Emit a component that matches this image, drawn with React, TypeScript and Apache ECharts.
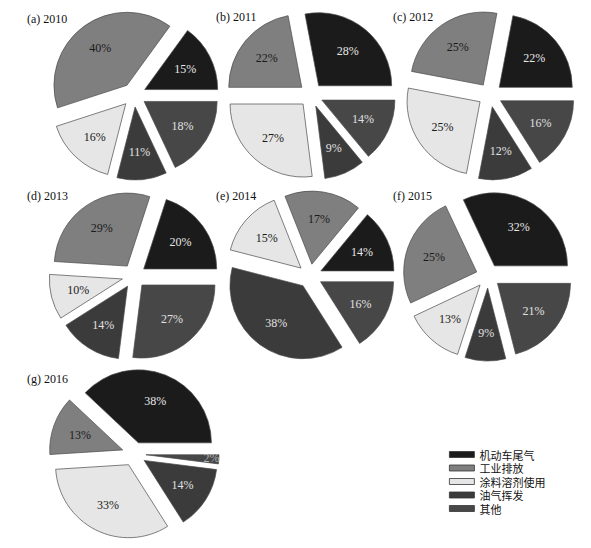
import React, { useEffect, useRef } from 'react';
import * as echarts from 'echarts';

const categories = ['机动车尾气', '工业排放', '涂料溶剂使用', '油气挥发', '其他'];
const panelTitles = ['(a) 2010', '(b) 2011', '(c) 2012', '(d) 2013', '(e) 2014', '(f) 2015', '(g) 2016'];

const share2010 = [15, 40, 16, 11, 18];
const share2011 = [28, 22, 27, 9, 14];
const share2012 = [22, 25, 25, 12, 16];
const share2013 = [20, 29, 10, 14, 27];
const share2014 = [14, 17, 15, 38, 16];
const share2015 = [32, 25, 13, 9, 21];
const share2016 = [38, 13, 33, 14, 2];

const shares = [share2010, share2011, share2012, share2013, share2014, share2015, share2016];

// styling / layout
const colors = ['#1b1b1b', '#7f7f7f', '#e6e6e6', '#3b3b3b', '#474747'];
const labelColors = ['#e6e6e6', '#1a1a1a', '#1a1a1a', '#e0e0e0', '#e0e0e0'];
const centers = [
  [134, 95], [311, 95], [490, 95],
  [134, 276], [310, 276], [488, 276],
  [134, 454],
];
const titlePos = [
  [27, 13], [216, 11], [393, 11],
  [27, 190], [216, 190], [393, 190],
  [27, 373],
];
const R = 73;
const OFFSET = 12;

export default function App() {
  const ref = useRef<HTMLDivElement>(null);
  useEffect(() => {
    if (!ref.current) return;
    const chart = echarts.init(ref.current, null, { renderer: 'svg' });

    const pieSeries = shares.map((vals, p) => ({
      type: 'pie',
      center: centers[p],
      radius: [0, R],
      startAngle: 0,
      clockwise: false,
      selectedMode: 'multiple',
      selectedOffset: OFFSET,
      avoidLabelOverlap: false,
      silent: true,
      emphasis: { disabled: true },
      label: { show: false },
      labelLine: { show: false },
      data: vals.map((v, i) => ({
        name: categories[i],
        value: v,
        selected: true,
        itemStyle: { color: colors[i], borderColor: '#4a4a4a', borderWidth: 0.7 },
        select: { itemStyle: { color: colors[i], borderColor: '#4a4a4a', borderWidth: 0.7 } },
      })),
    }));

    const labelSeries = shares.map((vals, p) => ({
      type: 'pie',
      center: centers[p],
      radius: [12, R],
      startAngle: 0,
      clockwise: false,
      selectedMode: 'multiple',
      selectedOffset: OFFSET,
      avoidLabelOverlap: false,
      silent: true,
      emphasis: { disabled: true },
      labelLine: { show: false },
      data: vals.map((v, i) => {
        const tiny = v < 5;
        return {
          name: categories[i],
          value: v,
          selected: true,
          itemStyle: { color: 'rgba(0,0,0,0)', borderWidth: 0 },
          select: { itemStyle: { color: 'rgba(0,0,0,0)', borderWidth: 0 } },
          label: {
            show: true,
            position: 'inside',
            formatter: '{c}%',
            fontFamily: 'Liberation Serif',
            fontSize: 12,
            color: tiny ? '#b4b4b4' : labelColors[i],
            padding: tiny ? [0, 0, 0, 40] : 0,
          },
        };
      }),
    }));

    chart.setOption({
      animation: false,
      backgroundColor: '#ffffff',
      title: panelTitles.map((t, i) => ({
        text: t,
        left: titlePos[i][0],
        top: titlePos[i][1],
        padding: 0,
        textStyle: { fontFamily: 'Liberation Serif', fontSize: 12, fontWeight: 'normal', color: '#111' },
      })),
      legend: {
        orient: 'vertical',
        left: 449,
        top: 448,
        padding: 0,
        itemWidth: 25,
        itemHeight: 6,
        itemGap: 0.5,
        icon: 'rect',
        selectedMode: false,
        data: categories,
        itemStyle: { borderColor: '#333', borderWidth: 0.8 },
        textStyle: { fontFamily: 'Noto Sans CJK SC', fontSize: 11, color: '#111', lineHeight: 13, padding: [0, 0, 0, 0] },
      },
      series: [...pieSeries, ...labelSeries],
    });
    return () => chart.dispose();
  }, []);
  return (
    <div
      ref={ref}
      style={{ position: 'absolute', left: 0, top: 0, width: 591, height: 548, background: '#fff' }}
    />
  );
}
